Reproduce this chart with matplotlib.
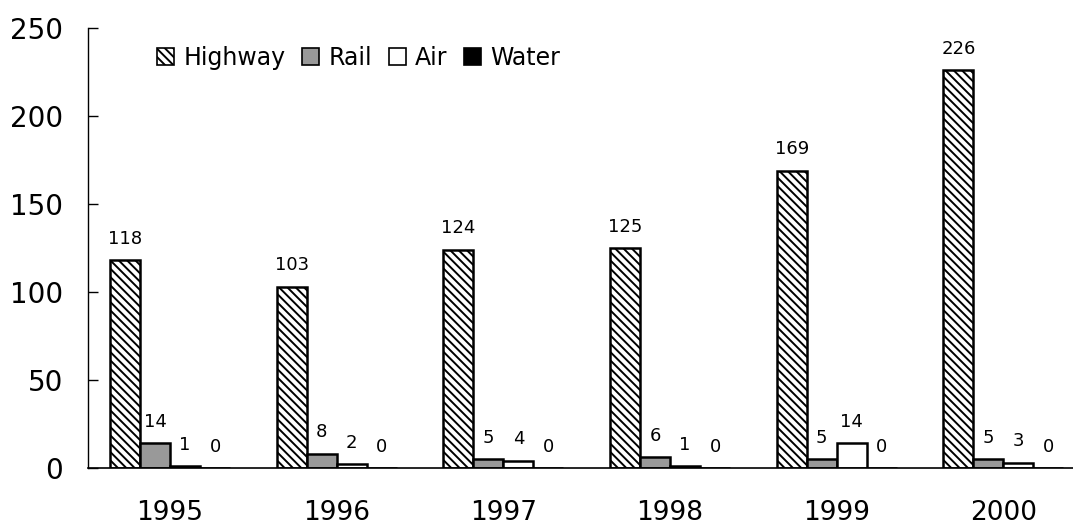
import matplotlib
matplotlib.use("Agg")
import matplotlib.pyplot as plt
import numpy as np

years = ["1995", "1996", "1997", "1998", "1999", "2000"]
highway = [118, 103, 124, 125, 169, 226]
rail = [14, 8, 5, 6, 5, 5]
air = [1, 2, 4, 1, 14, 3]
water = [0, 0, 0, 0, 0, 0]
series_names = ["Highway", "Rail", "Air", "Water"]
y_ticks = [0, 50, 100, 150, 200, 250]

plt.rcParams['font.family'] = ['DejaVu Sans']
plt.rcParams['hatch.color'] = '#a0a0a0'
plt.rcParams['hatch.linewidth'] = 1.4

fig = plt.figure(figsize=(10.73, 5.25), dpi=100)
ax = fig.add_axes([88/1073, 57/525, 1 - 88/1073, (468-28)/525])

x = np.arange(len(years))
w = 0.18
series = [highway, rail, air, water]
styles = [dict(facecolor='white', hatch='\\\\\\\\'),
          dict(facecolor='#999999'),
          dict(facecolor='white'),
          dict(facecolor='black')]
offsets = [-1.5, -0.5, 0.5, 1.5]
for vals, name, st, off in zip(series, series_names, styles, offsets):
    bars = ax.bar(x + off*w, vals, w, edgecolor='black', linewidth=1.8,
                  label=name, **st)
    for b, v in zip(bars, vals):
        ax.annotate(str(v), (b.get_x() + b.get_width()/2, v),
                    xytext=(0, 9), textcoords='offset points',
                    ha='center', va='bottom', fontsize=13)

ax.set_ylim(0, 250)
ax.set_xlim(-0.492, 5.417)
ax.set_yticks(y_ticks)
ax.set_yticklabels([str(t) for t in y_ticks], fontsize=20)
ax.set_xticks(x)
ax.set_xticklabels(years, fontsize=19)
ax.tick_params(axis='y', direction='in', length=7, width=1, pad=18)
ax.tick_params(axis='x', length=0, pad=23)
for s in ['top', 'right']:
    ax.spines[s].set_visible(False)
ax.spines['left'].set_linewidth(1)
ax.spines['bottom'].set_linewidth(1.2)

leg = ax.legend(ncol=4, loc='center left', bbox_to_anchor=(0.07, 0.932),
                frameon=False, fontsize=17, handlelength=0.72, handleheight=0.72,
                handletextpad=0.4, columnspacing=0.7, borderaxespad=0, borderpad=0)
for h in leg.legend_handles:
    h.set_linewidth(1.2)

fig.savefig("out.png", dpi=100)
